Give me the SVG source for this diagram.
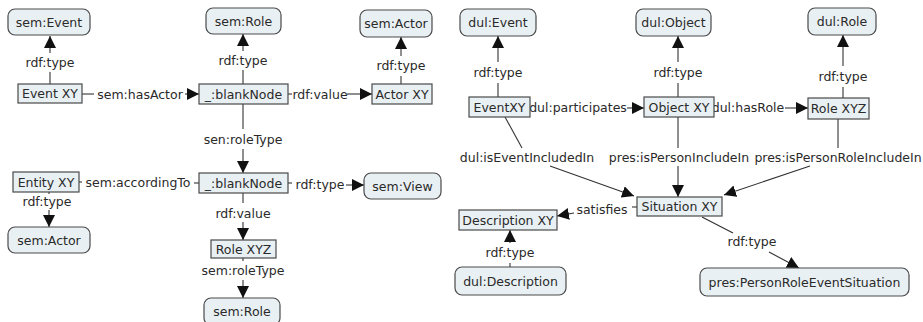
<svg xmlns="http://www.w3.org/2000/svg" width="923" height="322" viewBox="0 0 923 322">
<style>
  .cls { fill: #e9f0f3; stroke: #4a4a4a; stroke-width: 1.2; }
  .ins { fill: #e9f0f3; stroke: #4a4a4a; stroke-width: 1.2; }
  text { font-family: "DejaVu Sans", Verdana, sans-serif; font-size: 12.5px; fill: #2a2a2a; text-anchor: middle; dominant-baseline: central; }
  .ln { stroke: #333; stroke-width: 1.1; fill: none; }
  .ar { stroke: #333; stroke-width: 1.1; fill: none; marker-end: url(#ah); }
</style>
<defs>
  <marker id="ah" markerUnits="userSpaceOnUse" markerWidth="12" markerHeight="12" viewBox="0 0 12 12" refX="12" refY="6" orient="auto">
    <path d="M0,0 L12,6 L0,12 z" fill="#111"/>
  </marker>
</defs>
<rect width="923" height="322" fill="#ffffff"/>

<g id="connectors">
  <!-- left -->
  <line class="ln" x1="50" y1="84" x2="50" y2="72"/><text x="50" y="62">rdf:type</text><line class="ar" x1="50" y1="53" x2="50" y2="36"/>
  <line class="ln" x1="82" y1="94" x2="94" y2="94"/><text x="140" y="94">sem:hasActor</text><line class="ar" x1="185" y1="94" x2="199" y2="94"/>
  <line class="ln" x1="243" y1="84" x2="243" y2="70"/><text x="243" y="60">rdf:type</text><line class="ar" x1="243" y1="51" x2="243" y2="34"/>
  <line class="ln" x1="288" y1="94" x2="292" y2="94"/><text x="320" y="94">rdf:value</text><line class="ar" x1="347" y1="94" x2="372" y2="94"/>
  <line class="ln" x1="401" y1="84" x2="401" y2="76"/><text x="401" y="65">rdf:type</text><line class="ar" x1="401" y1="56" x2="401" y2="37"/>
  <line class="ln" x1="243" y1="104" x2="243" y2="129"/><text x="243" y="139">sen:roleType</text><line class="ar" x1="243" y1="149" x2="243" y2="173"/>
  <line class="ln" x1="79" y1="182" x2="82" y2="182"/><text x="138" y="182">sem:accordingTo</text><line class="ln" x1="194" y1="183" x2="199" y2="183"/>
  <line class="ln" x1="49" y1="192" x2="49" y2="194"/><text x="47" y="201">rdf:type</text><line class="ar" x1="49" y1="210" x2="49" y2="227"/>
  <line class="ln" x1="288" y1="183" x2="292" y2="183"/><text x="320" y="184">rdf:type</text><line class="ar" x1="346" y1="185" x2="364" y2="185"/>
  <line class="ln" x1="243" y1="193" x2="243" y2="203"/><text x="243" y="213">rdf:value</text><line class="ar" x1="243" y1="222" x2="243" y2="240"/>
  <line class="ln" x1="243" y1="258" x2="243" y2="261"/><text x="243" y="270">sem:roleType</text><line class="ar" x1="243" y1="280" x2="243" y2="298"/>
  <!-- right -->
  <line class="ln" x1="498" y1="97" x2="498" y2="83"/><text x="498" y="72">rdf:type</text><line class="ar" x1="498" y1="62" x2="498" y2="36"/>
  <text x="578" y="107">dul:participates</text><line class="ar" x1="627" y1="108" x2="644" y2="108"/>
  <line class="ln" x1="678" y1="97" x2="678" y2="83"/><text x="678" y="72">rdf:type</text><line class="ar" x1="678" y1="62" x2="678" y2="36"/>
  <text x="748" y="107">dul:hasRole</text><line class="ar" x1="785" y1="108" x2="808" y2="108"/>
  <line class="ln" x1="843" y1="98" x2="843" y2="87"/><text x="843" y="76">rdf:type</text><line class="ar" x1="843" y1="66" x2="843" y2="35"/>
  <line class="ln" x1="505" y1="117" x2="522" y2="148"/><text x="527" y="157">dul:isEventIncludedIn</text><line class="ar" x1="550" y1="166" x2="634" y2="196"/>
  <line class="ln" x1="678" y1="117" x2="678" y2="148"/><text x="679" y="157">pres:isPersonIncludeIn</text><line class="ar" x1="678" y1="166" x2="678" y2="197"/>
  <line class="ln" x1="838" y1="119" x2="838" y2="148"/><text x="838" y="157">pres:isPersonRoleIncludeIn</text><line class="ar" x1="810" y1="166" x2="724" y2="195"/>
  <line class="ln" x1="637" y1="207" x2="632" y2="207"/><text x="602" y="209">satisfies</text><line class="ar" x1="574" y1="213" x2="557" y2="216"/>
  <line class="ln" x1="510" y1="267" x2="510" y2="263"/><text x="510" y="252">rdf:type</text><line class="ar" x1="510" y1="243" x2="510" y2="230"/>
  <line class="ln" x1="702" y1="217" x2="733" y2="233"/><text x="752" y="241">rdf:type</text><line class="ar" x1="769" y1="252" x2="799" y2="268"/>
</g>

<g id="n-sem-event"><rect class="cls" x="8" y="9" width="82" height="26" rx="7"/><text x="49" y="22">sem:Event</text></g>
<g id="n-event-xy"><rect class="ins" x="18" y="84" width="64" height="19"/><text x="50" y="93.5">Event XY</text></g>
<g id="n-blank1"><rect class="ins" x="199" y="84" width="89" height="20"/><text x="243.5" y="94">_:blankNode</text></g>
<g id="n-sem-role-top"><rect class="cls" x="206" y="8" width="75" height="26" rx="7"/><text x="243.5" y="21">sem:Role</text></g>
<g id="n-actor-xy"><rect class="ins" x="372" y="84" width="60" height="20"/><text x="402" y="94">Actor XY</text></g>
<g id="n-sem-actor-top"><rect class="cls" x="360" y="10" width="72" height="27" rx="7"/><text x="396" y="23.5">sem:Actor</text></g>
<g id="n-entity-xy"><rect class="ins" x="13" y="172" width="66" height="20"/><text x="46" y="182">Entity XY</text></g>
<g id="n-sem-actor-bottom"><rect class="cls" x="8" y="227" width="82" height="26" rx="7"/><text x="49" y="240">sem:Actor</text></g>
<g id="n-blank2"><rect class="ins" x="199" y="173" width="89" height="20"/><text x="243.5" y="183">_:blankNode</text></g>
<g id="n-sem-view"><rect class="cls" x="364" y="173" width="77" height="26" rx="7"/><text x="402.5" y="186">sem:View</text></g>
<g id="n-role-xyz-left"><rect class="ins" x="211" y="240" width="65" height="18"/><text x="243.5" y="249">Role XYZ</text></g>
<g id="n-sem-role-bottom"><rect class="cls" x="204" y="298" width="76" height="27" rx="7"/><text x="242" y="311">sem:Role</text></g>

<g id="n-dul-event"><rect class="cls" x="460" y="9" width="76" height="27" rx="7"/><text x="498" y="22.5">dul:Event</text></g>
<g id="n-eventxy"><rect class="ins" x="469" y="97" width="61" height="20"/><text x="499.5" y="107">EventXY</text></g>
<g id="n-object-xy"><rect class="ins" x="644" y="97" width="70" height="20"/><text x="679" y="107">Object XY</text></g>
<g id="n-dul-object"><rect class="cls" x="636" y="9" width="75" height="27" rx="7"/><text x="673.5" y="22.5">dul:Object</text></g>
<g id="n-role-xyz-right"><rect class="ins" x="808" y="98" width="61" height="21"/><text x="838.5" y="108.5">Role XYZ</text></g>
<g id="n-dul-role"><rect class="cls" x="808" y="8" width="68" height="27" rx="7"/><text x="842" y="21.5">dul:Role</text></g>
<g id="n-situation-xy"><rect class="ins" x="637" y="197" width="85" height="19"/><text x="679.5" y="206.5">Situation XY</text></g>
<g id="n-description-xy"><rect class="ins" x="459" y="210" width="98" height="20"/><text x="508" y="220">Description XY</text></g>
<g id="n-dul-description"><rect class="cls" x="455" y="267" width="111" height="28" rx="7"/><text x="510.5" y="281">dul:Description</text></g>
<g id="n-pres-pres"><rect class="cls" x="700" y="268" width="209" height="28" rx="7"/><text x="804.5" y="282">pres:PersonRoleEventSituation</text></g>
</svg>
